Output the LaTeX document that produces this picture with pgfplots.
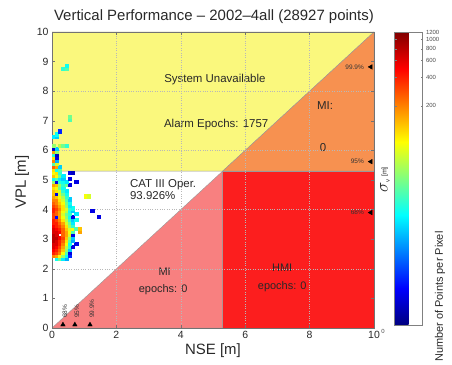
\documentclass[border=0pt]{standalone}
\usepackage{pgfplots}
\pgfplotsset{compat=1.18}
\usepackage{fontspec}
\setmainfont{Liberation Sans}
\definecolor{cyel}{RGB}{250,248,125}
\definecolor{cora}{RGB}{247,145,80}
\definecolor{cred}{RGB}{252,30,30}
\definecolor{cpink}{RGB}{248,128,128}
\definecolor{txt}{RGB}{40,40,40}
\newcommand{\fs}[1]{\fontsize{#1}{#1}\selectfont}
\pgfplotstableread{
x y c
0.15 2.35 1.2
0.25 2.35 1.5
0.35 2.35 1.1
0.45 2.35 0.9
0.05 2.45 2.3
0.15 2.45 2.2
0.25 2.45 1.9
0.35 2.45 1.6
0.45 2.45 1.2
0.55 2.45 0.5
0.05 2.55 2.6
0.15 2.55 2.5
0.25 2.55 2.3
0.35 2.55 1.9
0.45 2.55 1.4
0.55 2.55 0.3
0.05 2.65 2.7
0.15 2.65 2.6
0.25 2.65 2.4
0.35 2.65 2.1
0.45 2.65 1.6
0.55 2.65 1.0
0.05 2.75 2.8
0.15 2.75 2.7
0.25 2.75 2.5
0.35 2.75 2.2
0.45 2.75 1.7
0.55 2.75 1.3
0.65 2.75 0.3
0.05 2.85 2.8
0.15 2.85 2.8
0.25 2.85 2.6
0.35 2.85 2.3
0.45 2.85 1.9
0.55 2.85 1.2
0.75 2.85 0.3
0.05 2.95 2.9
0.15 2.95 2.8
0.25 2.95 2.6
0.35 2.95 2.4
0.45 2.95 2.0
0.55 2.95 1.4
0.65 2.95 0.9
0.05 3.05 2.9
0.15 3.05 2.9
0.25 3.05 2.7
0.35 3.05 2.5
0.45 3.05 2.1
0.55 3.05 1.6
0.65 3.05 1.0
0.05 3.15 2.9
0.15 3.15 2.8
0.35 3.15 2.4
0.45 3.15 2.2
0.55 3.15 1.8
0.65 3.15 0.3
0.05 3.25 2.8
0.15 3.25 2.8
0.25 3.25 2.7
0.35 3.25 2.4
0.45 3.25 2.2
0.55 3.25 1.9
0.65 3.25 1.4
0.85 3.25 2.2
0.05 3.35 2.8
0.15 3.35 2.7
0.25 3.35 2.6
0.35 3.35 2.4
0.45 3.35 2.1
0.55 3.35 1.8
0.65 3.35 1.9
0.75 3.35 1.4
0.85 3.35 2.1
0.05 3.45 2.7
0.15 3.45 2.6
0.25 3.45 2.5
0.35 3.45 2.3
0.45 3.45 2.0
0.55 3.45 1.6
0.65 3.45 1.3
0.05 3.55 2.6
0.15 3.55 2.6
0.25 3.55 2.4
0.35 3.55 2.2
0.45 3.55 1.8
0.55 3.55 1.5
0.65 3.55 1.1
0.05 3.65 2.6
0.15 3.65 2.5
0.25 3.65 2.3
0.35 3.65 2.0
0.45 3.65 1.7
0.55 3.65 1.3
0.65 3.65 1.0
0.75 3.65 1.2
0.05 3.75 2.5
0.15 3.75 0.4
0.25 3.75 2.2
0.35 3.75 1.9
0.45 3.75 1.6
0.55 3.75 1.2
0.65 3.75 0.3
1.45 3.75 0.3
0.05 3.85 2.5
0.15 3.85 2.4
0.25 3.85 2.2
0.35 3.85 1.8
0.45 3.85 1.5
0.55 3.85 1.3
0.75 3.85 1.1
0.05 3.95 2.6
0.15 3.95 2.4
0.25 3.95 2.2
0.35 3.95 1.9
0.45 3.95 1.7
0.55 3.95 1.2
0.65 3.95 1.0
1.25 3.95 0.3
0.05 4.05 2.6
0.15 4.05 2.5
0.25 4.05 2.3
0.35 4.05 2.0
0.45 4.05 1.8
0.55 4.05 1.3
0.65 4.05 1.2
0.05 4.15 2.5
0.15 4.15 2.4
0.25 4.15 2.2
0.35 4.15 2.0
0.45 4.15 1.6
0.55 4.15 1.1
0.05 4.25 2.4
0.15 4.25 2.3
0.25 4.25 2.1
0.35 4.25 1.9
0.45 4.25 1.5
0.55 4.25 1.2
0.05 4.35 2.3
0.15 4.35 2.3
0.25 4.35 2.0
0.35 4.35 1.8
0.45 4.35 1.4
0.55 4.35 1.0
0.05 4.45 2.2
0.15 4.45 2.1
0.25 4.45 1.9
0.35 4.45 1.7
0.45 4.45 1.3
1.05 4.45 1.9
1.15 4.45 1.8
0.05 4.55 2.1
0.15 4.55 0.3
0.25 4.55 1.8
0.35 4.55 1.5
0.45 4.55 1.2
0.05 4.65 2.1
0.15 4.65 2.0
0.25 4.65 1.8
0.35 4.65 1.3
0.45 4.65 1.1
0.05 4.75 2.0
0.15 4.75 1.9
0.25 4.75 1.5
0.35 4.75 1.2
0.05 4.85 2.2
0.15 4.85 2.1
0.25 4.85 1.6
0.35 4.85 1.3
0.45 4.85 1.5
0.55 4.85 0.3
0.05 4.95 1.6
0.15 4.95 0.3
0.25 4.95 1.3
0.35 4.95 1.2
0.45 4.95 1.1
0.75 4.95 0.3
0.05 5.05 1.2
0.15 5.05 1.4
0.25 5.05 1.1
0.35 5.05 1.0
0.55 5.05 0.3
0.05 5.15 2.1
0.15 5.15 1.9
0.25 5.15 1.5
0.35 5.15 1.1
0.05 5.25 1.9
0.15 5.25 2.0
0.25 5.25 1.3
0.55 5.25 0.3
0.65 5.25 0.2
0.05 5.35 2.0
0.15 5.35 1.2
0.25 5.35 1.4
0.05 5.45 2.4
0.15 5.45 2.2
0.25 5.45 1.0
0.05 5.55 1.4
0.15 5.55 1.8
0.05 5.65 2.3
0.15 5.65 0.9
0.05 5.75 2.0
0.15 5.75 0.3
0.05 5.85 1.3
0.15 5.85 0.2
0.05 5.95 2.2
0.15 5.95 1.6
0.05 6.05 0.2
0.15 6.05 1.0
0.05 6.15 1.6
0.25 6.15 1.7
0.35 6.15 1.5
0.45 6.15 1.3
0.05 6.45 1.1
0.15 6.45 1.0
0.15 6.55 1.2
0.25 6.65 0.5
0.55 7.05 1.4
0.55 7.15 1.5
0.35 8.75 1.3
0.45 8.75 1.4
0.45 8.85 1.2
}\cells
\begin{document}
\begin{tikzpicture}
\begin{axis}[
  at={(0,0)}, anchor=south west,
  scale only axis, width=322bp, height=296bp,
  xmin=0, xmax=10, ymin=0, ymax=10,
  xtick={0,2,...,10}, ytick={0,1,...,10},
  xmajorgrids,
  extra y ticks={2,4,6,8}, extra y tick labels={},
  extra y tick style={grid=major},
  grid style={dotted, black!28, line width=0.45bp},
  axis on top,
  tick align=inside,
  major tick length=3bp,
  axis line style={black!55, line width=0.5bp},
  tick style={black!55, line width=0.4bp},
  ticklabel style={font=\fs{10.5}, text=txt},
  /pgf/number format/assume math mode=true,
  point meta min=0, point meta max=3.08,
  colormap/jet,
  colorbar right,
  colorbar style={
    at={(parent axis.north east)}, anchor=north west, xshift=12bp,
    scale only axis, width=28bp, height=293bp,
    ytick={2.303,2.603,2.779,2.904,3.0004,3.0796},
    yticklabels={200,400,600,800,1000,1200},
    yticklabel style={font=\fs{6}, text=black!70},
    major tick length=2bp,
    tick style={black!50, line width=0.3bp},
    axis line style={black!50, line width=0.4bp},
  },
]
\addplot[fill=cyel, draw=black!40, line width=0.4bp] coordinates {(0,5.3) (5.3,5.3) (10,10) (0,10) (0,5.3)};
\addplot[fill=cora, draw=black!40, line width=0.4bp] coordinates {(5.3,5.3) (10,10) (10,5.3) (5.3,5.3)};
\addplot[fill=cred, draw=black!40, line width=0.4bp] coordinates {(5.3,0) (10,0) (10,5.3) (5.3,5.3) (5.3,0)};
\addplot[fill=cpink, draw=black!40, line width=0.4bp] coordinates {(0,0) (5.3,5.3) (5.3,0) (0,0)};
\addplot[scatter, only marks, mark=square*, mark size=1.6bp,
  scatter/use mapped color={draw=mapped color, fill=mapped color},
  point meta=explicit] table[meta=c] {\cells};
\addplot[only marks, mark=triangle*, mark size=2.6bp, black, mark options={rotate=90}] coordinates {(9.9,8.82) (9.9,5.62) (9.9,3.9)};
\addplot[only marks, mark=triangle*, mark size=2.6bp, black] coordinates {(0.34,0.11) (0.71,0.11) (1.18,0.11)};
\node[font=\fs{11.5}, text=txt] at (axis cs:5.06,8.38) {System Unavailable};
\node[font=\fs{11.5}, text=txt] at (axis cs:5.1,6.86) {Alarm Epochs: 1757};
\node[font=\fs{11.5}, text=txt] at (axis cs:8.48,7.53) {MI:};
\node[font=\fs{11.5}, text=txt] at (axis cs:8.42,6.08) {0};
\node[font=\fs{11.5}, text=txt, anchor=west, align=left, inner sep=0pt] at (axis cs:2.42,4.67) {CAT III Oper.\\[1pt]93.926\%};
\node[font=\fs{11}, text=txt] at (axis cs:3.5,1.9) {MI};
\node[font=\fs{11}, text=txt] at (axis cs:3.45,1.28) {epochs: 0};
\node[font=\fs{11}, text=txt] at (axis cs:7.15,2.03) {HMI};
\node[font=\fs{11}, text=txt] at (axis cs:7.15,1.39) {epochs: 0};
\node[font=\fs{6.5}, text=black!80, anchor=east, inner sep=1pt] at (axis cs:9.72,8.82) {99.9\%};
\node[font=\fs{6.5}, text=black!80, anchor=east, inner sep=1pt] at (axis cs:9.72,5.62) {95\%};
\node[font=\fs{6.5}, text=black!80, anchor=east, inner sep=1pt] at (axis cs:9.72,3.9) {68\%};
\node[font=\fs{6.5}, text=black!80, anchor=west, rotate=90, inner sep=1pt] at (axis cs:0.40,0.3) {68\%};
\node[font=\fs{6.5}, text=black!80, anchor=west, rotate=90, inner sep=1pt] at (axis cs:0.77,0.3) {95\%};
\node[font=\fs{6.5}, text=black!80, anchor=west, rotate=90, inner sep=1pt] at (axis cs:1.24,0.3) {99.9\%};
\end{axis}
\node[font=\fs{15}, text=txt] at (162bp,311bp) {Vertical Performance -- 2002--4all (28927 points)};
\node[font=\fs{15}, text=txt] at (161bp,-23bp) {NSE [m]};
\node[font=\fs{15}, text=txt, rotate=90] at (-30bp,146bp) {VPL [m]};
\node[rotate=90, text=txt, inner sep=0pt] at (333bp,148bp) {\fs{16}$\sigma$\raisebox{-2bp}{\fs{6}v}\,\raisebox{1bp}{\fs{7}[m]}};
\node[font=\fs{11}, text=txt, rotate=90, anchor=east] at (388bp,100bp) {Number of Points per Pixel};
\node[font=\fs{6}, text=black!70] at (331bp,-3bp) {0};
\pgfresetboundingbox
\path (-52bp,-37bp) rectangle (400bp,328bp);
\end{tikzpicture}
\end{document}
